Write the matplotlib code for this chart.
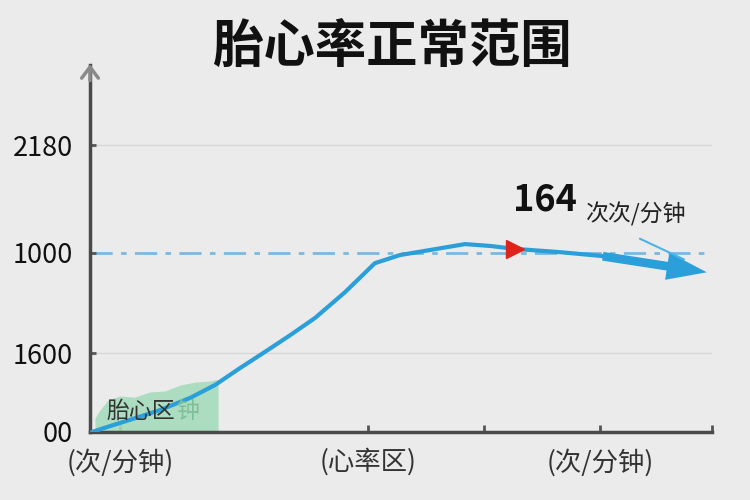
import matplotlib.pyplot as plt
import numpy as np

plt.rcParams['font.family'] = ['Noto Sans CJK SC', 'DejaVu Sans']

# 曲线数据 (横轴 0-100, 纵轴 0-100 相对刻度)
x_line = [0.3, 3.2, 6.4, 11.3, 16.1, 20.1, 24.1, 28.1, 32.2, 36.2, 41.0, 45.8,
          49.8, 54.7, 60.3, 64.3, 68.3, 75.6, 82.0, 88.4, 94.9]
y_line = [0.0, 1.6, 3.3, 6.0, 9.3, 12.8, 17.4, 21.8, 26.4, 31.1, 38.1, 46.0,
          48.2, 49.6, 51.2, 50.7, 49.9, 49.0, 48.0, 46.6, 45.2]
arrow_tip = (99.6, 43.4)

# 绿色区域
x_area = [0.8, 1.6, 2.9, 4.8, 7.2, 9.6, 12.1, 14.5, 16.9, 19.3, 20.1, 20.6]
y_area = [3.8, 6.0, 8.7, 9.8, 9.5, 10.9, 11.2, 12.8, 13.6, 13.9, 14.2, 14.2]

y_ticks = [0, 21.5, 48.8, 78.2]
y_labels = ['00', '1600', '1000', '2180']
x_ticks = [4.8, 44.7, 63.3, 82.0, 100]
x_label_pos = [4.8, 44.7, 82.0]
x_labels = ['(次/分钟)', '(心率区)', '(次/分钟)']
ref_level = 48.8
marker_x, marker_y = 68.3, 49.9

fig = plt.figure(figsize=(7.5, 5), dpi=100)
fig.patch.set_facecolor('#ebebeb')
ax = fig.add_axes([90 / 750, 68 / 500, 622 / 750, 367 / 500])
ax.set_facecolor('#ebebeb')
ax.set_xlim(0, 100)
ax.set_ylim(0, 100)

for s in ['top', 'right']:
    ax.spines[s].set_visible(False)
for s in ['left', 'bottom']:
    ax.spines[s].set_color('#4a4a4a')
    ax.spines[s].set_linewidth(2.5)

# 网格线
for yv in [21.5, 78.2]:
    ax.axhline(yv, color='#d8d8d8', lw=1, zorder=0)
ax.axhline(ref_level, color='#7ab8e0', lw=2, ls=(0, (8, 3, 2, 3)), zorder=1)

# 绿色区域
ax.fill_between(x_area, 0, y_area, color='#a6dcbc', alpha=0.9, lw=0, zorder=2)

# 主曲线
ax.plot(x_line, y_line, color='#2b9fd9', lw=3, solid_capstyle='round', zorder=3)
ax.annotate('', xy=arrow_tip, xytext=(x_line[-3], y_line[-3]),
            arrowprops=dict(arrowstyle='simple,head_length=1.6,head_width=1.1,tail_width=0.35',
                            mutation_scale=18, color='#2b9fd9', lw=0), zorder=4)
ax.annotate('', xy=(x_line[-1] + 1.0, y_line[-1] + 1.5), xytext=(88.0, 53.0),
            arrowprops=dict(arrowstyle='-', color='#4fb2e6', lw=1.5), zorder=4)
ax.plot([marker_x], [marker_y], marker='>', color='#e0221c', ms=13, zorder=5)

# 坐标轴箭头
ax.annotate('', xy=(0, 101), xytext=(0, 95),
            arrowprops=dict(arrowstyle='->,head_length=0.8,head_width=0.6',
                            color='#8a8a8a', lw=2.5), annotation_clip=False)

ax.set_yticks(y_ticks)
ax.set_yticklabels(y_labels, fontsize=19.5, color='#111111')
ax.tick_params(axis='y', direction='in', length=4, width=2, color='#555555', pad=12)
ax.set_xticks(x_ticks)
ax.set_xticklabels([])
ax.tick_params(axis='x', direction='in', length=5, width=2, color='#555555')
for xp, lab in zip(x_label_pos, x_labels):
    ax.text(xp, -4.5, lab, ha='center', va='top', fontsize=19, color='#333333')

ax.text(2.7, 5.5, '胎心区', fontsize=16.5, color='#333333', va='center', zorder=6)
ax.text(13.9, 5.5, '钟', fontsize=16.5, color='#7fbf98', va='center', zorder=6)

ax.text(68.0, 63.2, '164', fontsize=26, fontweight='bold', color='#111111', ha='left', va='center')
ax.text(79.6, 59.2, '次次/分钟', fontsize=16.5, color='#222222', ha='left', va='center')

fig.text(0.523, 0.905, '胎心率正常范围', fontsize=37, fontweight='bold', ha='center', va='center', color='#111111')

plt.savefig('out.png', dpi=100, facecolor=fig.get_facecolor())
